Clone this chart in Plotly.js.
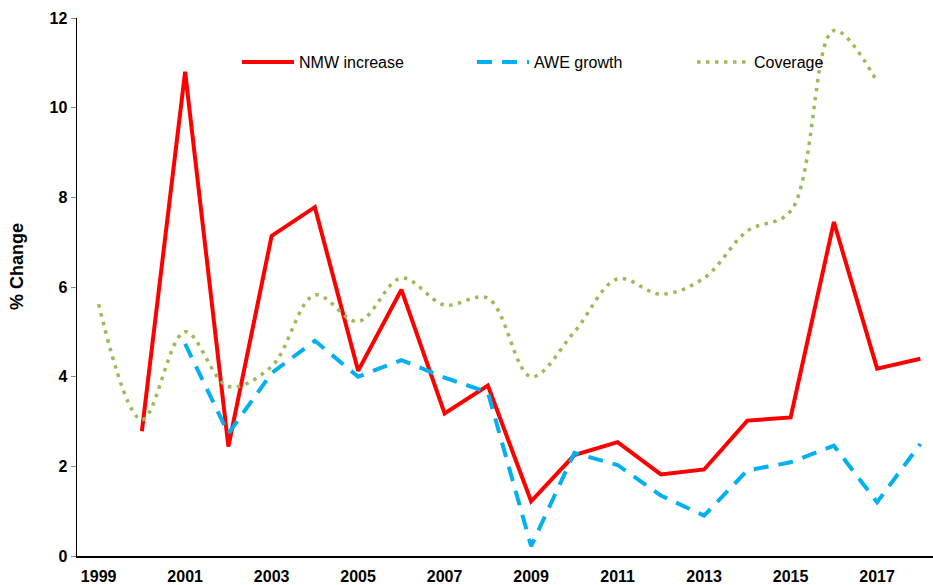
<!DOCTYPE html>
<html>
<head>
<meta charset="utf-8">
<script src="https://cdn.plot.ly/plotly-3.0.1.min.js"></script>
<style>html,body{margin:0;padding:0;background:#fff;}#chart{width:933px;height:585px;}</style>
</head>
<body>
<div id="chart"></div>
<script>
// Data
const nmwYears = [2000,2001,2002,2003,2004,2005,2006,2007,2008,2009,2010,2011,2012,2013,2014,2015,2016,2017,2018];
const nmwIncrease = [2.78,10.8,2.44,7.14,7.78,4.13,5.94,3.18,3.80,1.22,2.25,2.54,1.82,1.93,3.02,3.09,7.45,4.18,4.40];
const aweYears = [2001,2002,2003,2004,2005,2006,2007,2008,2009,2010,2011,2012,2013,2014,2015,2016,2017,2018];
const aweGrowth = [4.73,2.73,4.08,4.80,4.00,4.37,3.98,3.65,0.22,2.30,2.03,1.35,0.90,1.91,2.09,2.46,1.20,2.50];
const covYears = [1999,2000,2001,2002,2003,2004,2005,2006,2007,2008,2009,2010,2011,2012,2013,2014,2015,2016,2017];
const coverage = [5.62,3.04,5.00,3.78,4.23,5.82,5.23,6.20,5.60,5.75,4.00,5.00,6.18,5.84,6.20,7.25,7.69,11.72,10.58];
const xTickVals = [1999,2001,2003,2005,2007,2009,2011,2013,2015,2017];
const xTickText = ['1999','2001','2003','2005','2007','2009','2011','2013','2015','2017'];
const yTickVals = [0,2,4,6,8,10,12];

const FONT = 'Arial, "Liberation Sans", sans-serif';
const L = 77, T = 18, W = 933, H = 585, B = 29;
const plotW = W - L, plotH = H - T - B;
function px2x(p){ return (p - L) / plotW; }
function py2y(p){ return (H - B - p) / plotH; }

const traces = [
  {x: nmwYears, y: nmwIncrease, name: 'NMW increase', type: 'scatter', mode: 'lines',
   line: {color: '#FF0000', width: 4}, legend: 'legend'},
  {x: aweYears, y: aweGrowth, name: 'AWE growth', type: 'scatter', mode: 'lines',
   line: {color: '#00B0F0', width: 4, dash: '15px,10px'}, legend: 'legend2'},
  {x: covYears, y: coverage, name: 'Coverage', type: 'scatter', mode: 'lines',
   line: {color: '#9BBB59', width: 3.5, dash: '3.5px,5.5px', shape: 'spline', smoothing: 1}, legend: 'legend3'}
];

const legBase = {orientation: 'h', yanchor: 'middle', xanchor: 'left', bgcolor: 'rgba(0,0,0,0)',
  borderwidth: 0, itemwidth: 52, font: {family: FONT, size: 16, color: '#000'}};

const layout = {
  width: W, height: H,
  margin: {l: L, r: 0, t: T, b: B, pad: 0},
  paper_bgcolor: '#fff', plot_bgcolor: '#fff',
  showlegend: true,
  legend: Object.assign({}, legBase, {x: px2x(237), y: py2y(62)}),
  legend2: Object.assign({}, legBase, {x: px2x(472), y: py2y(62)}),
  legend3: Object.assign({}, legBase, {x: px2x(692), y: py2y(62)}),
  xaxis: {
    range: [1998.5, 1998.5 + plotW / 43.25],
    tickvals: xTickVals, ticktext: xTickText,
    showgrid: false, zeroline: false, showline: true, linecolor: '#000', linewidth: 1.5,
    ticks: '', ticklabelstandoff: 5,
    tickfont: {family: FONT, size: 16, color: '#000', weight: 'bold'},
    fixedrange: true
  },
  yaxis: {
    range: [0, 12], tickvals: yTickVals,
    showgrid: false, zeroline: false, showline: true, linecolor: '#000', linewidth: 1.5,
    ticks: 'outside', ticklen: 5, tickcolor: '#888', tickwidth: 1,
    tickfont: {family: FONT, size: 16, color: '#000', weight: 'bold'},
    fixedrange: true
  },
  annotations: [{
    text: '% Change', xref: 'paper', yref: 'paper', x: px2x(17), y: py2y(267),
    xanchor: 'center', yanchor: 'middle', textangle: -90, showarrow: false,
    font: {family: FONT, size: 18, color: '#000', weight: 'bold'}
  }]
};

Plotly.newPlot('chart', traces, layout, {displayModeBar: false, staticPlot: true});
</script>
</body>
</html>
